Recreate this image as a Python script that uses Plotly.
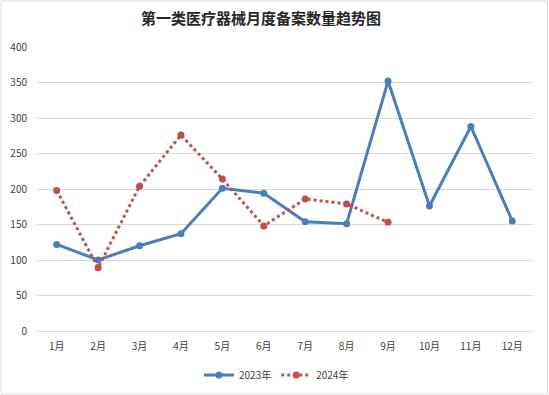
import plotly.graph_objects as go

months = ["1月", "2月", "3月", "4月", "5月", "6月", "7月", "8月", "9月", "10月", "11月", "12月"]
s2023 = [122, 100, 120, 137, 201, 194, 154, 151, 352, 176, 288, 155]
months_2024 = months[:9]
s2024 = [198, 89, 204, 276, 214, 148, 186, 179, 153]
yticks = [0, 50, 100, 150, 200, 250, 300, 350, 400]

W, H = 549, 395
L, R, T, B = 36, 16, 47, 64
pw, ph = W - L - R, H - T - B

font = "Noto Sans CJK SC, Noto Sans, sans-serif"
fig = go.Figure()
fig.add_trace(go.Scatter(x=months, y=s2023, name="2023年", mode="lines+markers",
                         line=dict(color="#4a7ebb", width=3),
                         marker=dict(color="#4a7ebb", size=7)))
fig.add_trace(go.Scatter(x=months_2024, y=s2024, name="2024年", mode="lines+markers",
                         line=dict(color="#c0504d", width=3, dash="dot"),
                         marker=dict(color="#c0504d", size=7)))

fig.update_layout(
    width=W, height=H,
    margin=dict(l=L, r=R, t=T, b=B, autoexpand=False),
    paper_bgcolor="white", plot_bgcolor="white",
    title=dict(text="<b>第一类医疗器械月度备案数量趋势图</b>", x=261 / W, xanchor="center",
               y=1 - 19 / H, yanchor="middle",
               font=dict(family=font, size=15, color="#262626")),
    font=dict(family=font, size=10, color="#595959"),
    xaxis=dict(type="category", categoryorder="array", categoryarray=months,
               range=[-0.5, len(months) - 0.5],
               showgrid=False, showline=True, linecolor="#d9d9d9", linewidth=1,
               ticks="", tickfont=dict(family=font, size=10, color="#404040"),
               ticklabelstandoff=6, fixedrange=True, automargin=False),
    yaxis=dict(range=[0, 400], tickvals=yticks, showgrid=True, gridcolor="#d9d9d9",
               gridwidth=1, zeroline=False, showline=False, ticks="",
               tickfont=dict(family=font, size=10, color="#404040"),
               ticklabelstandoff=8, automargin=False, fixedrange=True),
    legend=dict(orientation="h", x=0.5 - 8 / pw, xanchor="center", y=(331 - 375) / ph,
                yanchor="middle", font=dict(family=font, size=10, color="#404040"),
                itemwidth=30),
    shapes=[dict(type="rect", xref="paper", yref="paper",
                 x0=(1 - L) / pw, x1=(547.5 - L) / pw,
                 y0=-(394 - (H - B)) / ph,
                 y1=1 + (T - 1) / ph,
                 line=dict(color="#d9d9d9", width=1), fillcolor="rgba(0,0,0,0)",
                 layer="below")],
)
fig.write_html("out.html", config={"responsive": False, "displayModeBar": False},
               post_script="document.body.style.margin='0';document.body.style.overflow='hidden';")
